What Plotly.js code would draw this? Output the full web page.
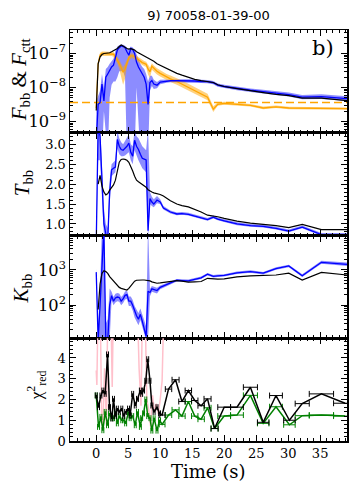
<!DOCTYPE html>
<html>
<head>
<meta charset="utf-8">
<script src="https://cdn.plot.ly/plotly-3.0.1.min.js"></script>
<style>
  html, body { margin: 0; padding: 0; background: #fff; }
  #plot { width: 358px; height: 495px; }
</style>
</head>
<body>
<div id="plot"></div>
<script>
// time grid of the spectral fits (s)
const fitTime = [0.0, 0.3, 0.6, 0.9, 1.2, 1.5, 1.8, 2.1, 2.4, 2.7, 3.0, 3.3, 3.6, 3.9, 4.2, 4.5, 4.8, 5.1, 5.4, 5.7,
  6.0, 6.3, 6.6, 6.9, 7.2, 7.5, 7.8, 8.1, 8.4, 8.7, 9.0, 9.5, 10.0, 10.5, 11.0, 11.6, 12.6, 13.4, 14.4, 15.4,
  16.4, 17.4, 18.3, 19.0, 20.0, 22.0, 24.1, 26.1, 28.1, 30.1, 32.2, 35.2, 39.2];

// panel 1: fluxes
const fluxTotal = [2.1e-9, 5e-8, 8e-8, 9.3e-8, 1e-7, 1e-7, 1.05e-7, 1.05e-7, 1.12e-7, 1.2e-7, 1.26e-7, 1.4e-7, 1.6e-7, 1.78e-7, 1.65e-7, 1.5e-7, 1.4e-7, 1.35e-7, 1.38e-7, 1.32e-7,
  1.26e-7, 1.12e-7, 1.05e-7, 9.5e-8, 8.9e-8, 8.5e-8, 7.9e-8, 7.4e-8, 6.9e-8, 6.5e-8, 5.9e-8, 5.0e-8, 4.5e-8, 4.0e-8, 3.5e-8, 3.2e-8, 2.6e-8, 2.3e-8, 2.0e-8, 1.74e-8,
  1.6e-8, 1.5e-8, 1.4e-8, 1.2e-8, 1.07e-8, 9.3e-9, 7.9e-9, 7.1e-9, 6.3e-9, 5.75e-9, 4.9e-9, 4.9e-9, 4.1e-9];
const fluxBB = [2.5e-10, 3.2e-9, 3.6e-9, 1.26e-8, 4e-9, 2e-8, 2.5e-8, 3.2e-8, 4e-8, 4.5e-8, 8e-8, 1.26e-7, 1.48e-7, 1.66e-7, 1.6e-7, 1.48e-7, 1.12e-7, 8.9e-8, 1.4e-7, 1.32e-7,
  1e-7, 5.6e-8, 4e-8, 3.2e-8, 2.5e-8, 2e-8, 1.26e-8, 3.2e-9, 1.4e-8, 1.6e-8, 1.26e-8, 1.17e-8, 1.45e-8, 1.5e-8, 1.55e-8, 1.58e-8, 1.58e-8, 1.58e-8, 1.58e-8, 1.55e-8,
  1.5e-8, 1.48e-8, 1.38e-8, 1.17e-8, 1.07e-8, 9.3e-9, 8.3e-9, 7.6e-9, 6.8e-9, 6.2e-9, 5.2e-9, 5.4e-9, 4.7e-9];
const fluxBBLo = [1e-10, 1e-10, 1e-10, 1e-10, 2e-9, 1e-10, 1e-10, 5e-9, 1.2e-8, 1.5e-8, 1.5e-8, 2e-8, 3e-8, 3e-8, 3e-8, 2e-8, 1e-10, 1e-10, 1e-10, 1e-10,
  1e-10, 1e-8, 1e-10, 1e-10, 1e-10, 1e-10, 1e-10, 1e-10, 8e-9, 1.1e-8, 9e-9, 9.5e-9, 1.25e-8, 1.33e-8, 1.38e-8, 1.42e-8, 1.42e-8, 1.42e-8, 1.42e-8, 1.39e-8,
  1.35e-8, 1.33e-8, 1.24e-8, 1.05e-8, 9.6e-9, 8.3e-9, 7.4e-9, 6.7e-9, 6.0e-9, 5.4e-9, 4.5e-9, 4.6e-9, 4.0e-9];
const fluxBBHi = [4e-9, 6e-9, 8e-9, 2.5e-8, 1e-8, 3.5e-8, 4e-8, 5e-8, 6e-8, 7e-8, 1.2e-7, 1.6e-7, 1.75e-7, 1.85e-7, 1.8e-7, 1.7e-7, 1.5e-7, 1.3e-7, 1.6e-7, 1.5e-7,
  1.3e-7, 9e-8, 7e-8, 5e-8, 4e-8, 3.5e-8, 2.5e-8, 1.5e-8, 2.2e-8, 2.2e-8, 1.7e-8, 1.45e-8, 1.68e-8, 1.7e-8, 1.74e-8, 1.76e-8, 1.76e-8, 1.76e-8, 1.76e-8, 1.73e-8,
  1.67e-8, 1.65e-8, 1.54e-8, 1.31e-8, 1.2e-8, 1.04e-8, 9.3e-9, 8.6e-9, 7.7e-9, 7.1e-9, 6.0e-9, 6.3e-9, 5.5e-9];
const fluxCtt = [2.5e-9, 5e-8, 9e-8, 1e-7, 1e-7, 1e-7, 1e-7, 1e-7, 1e-7, 9.5e-8, 8e-8, 6.5e-8, 5e-8, 3.8e-8, 2.8e-8, 3.5e-8, 5.5e-8, 7.5e-8, 8.5e-8, 8.5e-8,
  8e-8, 7.2e-8, 6.5e-8, 5.8e-8, 5.4e-8, 5.1e-8, 4.8e-8, 3.5e-8, 2.9e-8, 4.2e-8, 3.6e-8, 3.0e-8, 2.6e-8, 2.3e-8, 2.0e-8, 1.8e-8, 1.5e-8, 1.25e-8, 1.0e-8, 8e-9,
  6.5e-9, 5.2e-9, 2.3e-9, 3.2e-9, 3.4e-9, 3.2e-9, 3.0e-9, 2.5e-9, 2.7e-9, 2.5e-9, 2.5e-9, 2.5e-9, 2.4e-9];
const fluxCttLo = [2e-9, 4e-8, 7.5e-8, 8.5e-8, 8.5e-8, 8.5e-8, 8.5e-8, 8.5e-8, 8.5e-8, 8e-8, 6.5e-8, 5e-8, 3.5e-8, 2.2e-8, 1.2e-8, 1.8e-8, 4e-8, 6e-8, 7e-8, 7.2e-8,
  6.8e-8, 6.1e-8, 5.5e-8, 4.9e-8, 4.6e-8, 4.3e-8, 4e-8, 2.4e-8, 1.9e-8, 3.3e-8, 2.9e-8, 2.4e-8, 2.1e-8, 1.85e-8, 1.6e-8, 1.45e-8, 1.2e-8, 1.0e-8, 8e-9, 6.4e-9,
  5.2e-9, 4.2e-9, 1.9e-9, 2.9e-9, 3.1e-9, 2.95e-9, 2.75e-9, 2.3e-9, 2.5e-9, 2.3e-9, 2.3e-9, 2.3e-9, 2.2e-9];
const fluxCttHi = [3e-9, 6e-8, 1.05e-7, 1.15e-7, 1.15e-7, 1.15e-7, 1.15e-7, 1.15e-7, 1.15e-7, 1.1e-7, 9.5e-8, 8e-8, 6.5e-8, 5e-8, 4e-8, 5e-8, 7e-8, 9e-8, 1e-7, 1e-7,
  9.4e-8, 8.5e-8, 7.7e-8, 6.9e-8, 6.4e-8, 6e-8, 5.7e-8, 4.6e-8, 3.9e-8, 5.2e-8, 4.4e-8, 3.7e-8, 3.2e-8, 2.85e-8, 2.5e-8, 2.25e-8, 1.9e-8, 1.6e-8, 1.28e-8, 1.02e-8,
  8.2e-9, 6.6e-9, 2.8e-9, 3.6e-9, 3.8e-9, 3.5e-9, 3.3e-9, 2.75e-9, 2.95e-9, 2.7e-9, 2.7e-9, 2.7e-9, 2.6e-9];
const cttBaseline = 3.6e-9;

// panel 2: blackbody temperature
const tempRef = [null, 2.0, 2.22, 1.95, 1.8, 1.73, 1.76, 1.85, 1.92, 1.98, 2.1, 2.3, 2.55, 2.62, 2.63, 2.62, 2.6, 2.55, 2.45, 2.33,
  2.2, 2.1, 2.06, 2.03, 2.0, 1.97, 1.92, 1.86, 1.82, 1.8, 1.78, 1.76, 1.74, 1.7, 1.64, 1.58, 1.5, 1.46, 1.43, 1.37,
  1.3, 1.22, 1.2, 1.18, 1.14, 1.07, 1.02, 0.99, 0.96, 0.91, 0.99, 0.86, 0.86];
const tempBB = [0.5, 3.5, 3.2, 2.0, 1.0, 0.75, 0.6, 1.8, 2.36, 2.4, 2.43, 3.12, 2.95, 2.87, 2.85, 2.9, 2.95, 3.03, 2.8, 2.7,
  3.1, 2.95, 2.87, 2.75, 2.65, 2.63, 2.61, 0.83, 1.64, 1.55, 1.5, 1.6, 1.55, 1.4, 1.35, 1.3, 1.25, 1.26, 1.24, 1.2,
  1.16, 1.11, 1.17, 1.12, 1.08, 1.0, 0.96, 0.94, 0.89, 0.82, 0.92, 0.73, 0.73];
const tempBBLo = [0.4, 2.6, 2.6, 1.6, 0.7, 0.5, 0.4, 1.5, 2.2, 2.25, 2.3, 2.9, 2.75, 2.7, 2.7, 2.72, 2.75, 2.8, 2.6, 2.5,
  2.85, 2.7, 2.6, 2.5, 2.4, 2.35, 2.3, 0.6, 1.5, 1.45, 1.42, 1.52, 1.5, 1.36, 1.31, 1.26, 1.22, 1.23, 1.21, 1.17,
  1.13, 1.08, 1.14, 1.09, 1.05, 0.97, 0.93, 0.91, 0.86, 0.79, 0.89, 0.7, 0.7];
const tempBBHi = [0.6, 3.5, 3.5, 2.6, 1.4, 1.0, 0.9, 2.1, 2.5, 2.55, 2.6, 3.35, 3.15, 3.05, 3.0, 3.08, 3.15, 3.25, 3.0, 2.95,
  3.35, 3.2, 3.15, 3.05, 2.95, 2.9, 2.85, 3.4, 1.8, 1.68, 1.62, 1.7, 1.62, 1.45, 1.4, 1.34, 1.29, 1.3, 1.28, 1.24,
  1.2, 1.15, 1.21, 1.16, 1.12, 1.04, 1.0, 0.98, 0.93, 0.86, 0.96, 0.77, 0.77];

// panel 3: blackbody normalisation
const normRef = [null, 75, 400, 800, 950, 900, 800, 650, 560, 500, 420, 360, 320, 300, 290, 280, 270, 300, 350, 420,
  480, 510, 520, 520, 520, 520, 515, 510, 490, 460, 440, 420, 430, 440, 450, 470, 500, 480, 450, 460,
  470, 580, 560, 550, 560, 640, 680, 700, 720, 810, 520, 850, 720];
const normBB = [870, 10, 100, 2000, 15000, 10, 10, 100, 186, 130, 160, 170, 165, 130, 150, 190, 200, 130, 130, 100,
  65, 50, 40, 55, 35, 20, 13, 250, 230, 290, 280, 260, 320, 350, 380, 420, 510, 500, 490, 540,
  600, 760, 660, 680, 700, 830, 900, 810, 1100, 1300, 690, 1650, 1450];
const normBBLo = [600, 10, 10, 10, 10, 10, 10, 10, 140, 100, 120, 130, 125, 100, 115, 145, 150, 95, 95, 70,
  45, 35, 27, 38, 23, 13, 10, 10, 180, 240, 230, 215, 285, 315, 345, 385, 470, 460, 450, 500,
  555, 700, 610, 630, 650, 770, 830, 750, 1010, 1190, 630, 1500, 1300];
const normBBHi = [1100, 30, 300, 20000, 20000, 30, 40, 300, 240, 170, 210, 220, 215, 170, 195, 245, 260, 175, 175, 140,
  95, 75, 60, 80, 55, 35, 25, 20000, 290, 350, 340, 315, 360, 390, 420, 460, 555, 545, 535, 590,
  650, 825, 715, 740, 760, 900, 980, 880, 1200, 1420, 760, 1820, 1620];

// panel 4: reduced chi^2
const chiTime = [0.0, 0.36, 0.73, 1.04, 1.4, 1.77, 2.08, 2.45, 2.7, 3.0, 3.3, 3.6, 4.0, 4.3, 4.6, 5.05, 5.3, 5.7, 6.1, 6.45,
  6.9, 7.1, 7.4, 7.75, 8.05, 8.4, 8.7, 9.05, 9.5, 9.9, 10.3, 11.3, 12.4, 13.4, 14.4, 15.4, 16.4, 17.4, 18.5, 20.0,
  22.0, 24.1, 26.1, 28.1, 30.2, 32.2, 35.2, 38.9];
const chiTimeErr = [0.15, 0.15, 0.15, 0.15, 0.15, 0.15, 0.15, 0.15, 0.15, 0.15, 0.15, 0.15, 0.15, 0.15, 0.15, 0.15, 0.15, 0.15, 0.15, 0.15,
  0.15, 0.15, 0.15, 0.15, 0.15, 0.15, 0.15, 0.15, 0.15, 0.15, 0.45, 0.5, 0.55, 0.5, 0.5, 0.5, 0.5, 0.55, 0.55, 1.0,
  1.0, 1.1, 0.9, 1.0, 0.9, 1.1, 1.9, 1.8];
const chiRef = [2.2, 1.63, 2.19, 2.43, 2.27, 4.17, 1.63, 1.08, 2.03, 1.2, 1.56, 1.4, 1.56, 1.2, 1.4, 1.56, 1.24, 2.27, 1.71, 2.03,
  2.43, 2.27, 2.43, 2.9, 3.94, 2.9, 1.71, 1.4, 1.63, 1.33, 1.25, 2.5, 2.95, 1.9, 2.43, 1.95, 1.7, 2.03, 0.6, 1.63,
  1.63, 2.59, 0.9, 2.19, 1.0, 1.8, 2.27, 1.82];
const chiBB = [2.19, 0.68, 1.16, 0.52, 1.4, 0.76, 1.33, 1.1, 1.1, 1.4, 0.85, 1.2, 1.0, 1.0, 0.85, 1.4, 1.1, 1.2, 0.76, 1.4,
  0.68, 1.1, 1.33, 2.0, 1.2, 1.1, 0.5, 1.1, 0.5, 1.0, 0.8, 1.25, 1.5, 1.2, 1.9, 1.2, 1.05, 1.6, 0.6, 1.2,
  1.25, 2.2, 0.85, 1.65, 0.78, 1.22, 1.25, 1.2];
const pinkTime = [0.0, 0.1, 0.36, 0.6, 0.85, 1.04, 1.3, 1.6, 1.9, 2.2, 2.5, 2.8, 3.2, 6.3, 6.7, 7.0, 7.3, 7.6, 7.9, 8.2,
  8.5, 8.8, 9.1, 9.4, 9.7, 10.0, 10.3, 10.7, 11.0];
const chiPink = [3.4, 2.7, 8, 7, 1.1, 0.6, 3.5, 0.8, 9, 8, 2.6, 9, 8, 8, 3.5, 1.7, 8, 7, 2.0, 1.5,
  0.7, 2.2, 1.4, 1.8, 1.3, 2.0, 2.9, 8, 8];

const xRange = [-4.1, 39.2];
const SERIF = "DejaVu Serif";
const MATH = "Liberation Serif";

function band(x, lo, hi, xa, ya, color) {
  return [
    { x: x, y: lo, xaxis: xa, yaxis: ya, type: "scatter", mode: "lines", line: { width: 0 }, hoverinfo: "skip" },
    { x: x, y: hi, xaxis: xa, yaxis: ya, type: "scatter", mode: "lines", line: { width: 0 },
      fill: "tonexty", fillcolor: color, hoverinfo: "skip" },
  ];
}

function curve(x, y, xa, ya, color, width, extra) {
  return Object.assign({ x: x, y: y, xaxis: xa, yaxis: ya, type: "scatter", mode: "lines",
    line: { color: color, width: width } }, extra || {});
}

const blueBand = "rgba(0,0,255,0.45)";
const orangeBand = "rgba(255,165,0,0.5)";

const traces = [
  ...band(fitTime, fluxBBLo, fluxBBHi, "x", "y", blueBand),
  ...band(fitTime, fluxCttLo, fluxCttHi, "x", "y", orangeBand),
  curve(xRange, [cttBaseline, cttBaseline], "x", "y", "#ffa500", 1.5, { line: { color: "#ffa500", width: 1.5, dash: "8px,4px" } }),
  curve(fitTime, fluxCtt, "x", "y", "#ffa500", 1.3),
  curve(fitTime, fluxBB, "x", "y", "#0000ff", 1.3),
  curve(fitTime, fluxTotal, "x", "y", "black", 1.2),

  ...band(fitTime, tempBBLo, tempBBHi, "x2", "y2", blueBand),
  curve(fitTime, tempBB, "x2", "y2", "#0000ff", 1.3),
  curve(fitTime, tempRef, "x2", "y2", "black", 1.2),

  ...band(fitTime, normBBLo, normBBHi, "x3", "y3", blueBand),
  curve(fitTime, normBB, "x3", "y3", "#0000ff", 1.3),
  curve(fitTime, normRef, "x3", "y3", "black", 1.2),

  curve(pinkTime, chiPink, "x4", "y4", "#ffc0cb", 1.5),
  curve(chiTime, chiBB, "x4", "y4", "green", 1.5, {
    error_x: { type: "data", array: chiTimeErr, color: "green", thickness: 1, width: 3 } }),
  curve(chiTime, chiRef, "x4", "y4", "black", 1.5, {
    error_x: { type: "data", array: chiTimeErr, color: "black", thickness: 1, width: 3 } }),
];

const xBase = {
  range: xRange, showline: true, linewidth: 1.5, linecolor: "black", mirror: "ticks",
  ticks: "inside", ticklen: 6, tickwidth: 1, tickcolor: "black", tick0: 0, dtick: 5,
  minor: { ticks: "inside", ticklen: 3, dtick: 1, tickcolor: "black" },
  showgrid: false, zeroline: false, showticklabels: false,
};
function yBase(extra) {
  return Object.assign({
    showline: true, linewidth: 1.5, linecolor: "black", mirror: "ticks",
    ticks: "inside", ticklen: 6, tickwidth: 1, tickcolor: "black",
    showgrid: false, zeroline: false, tickfont: { family: SERIF, size: 13, color: "black" },
  }, extra);
}

function sideTitle(text, x, y, size) {
  return { text: text, xref: "paper", yref: "paper", x: x, y: y, xanchor: "center", yanchor: "middle",
    textangle: -90, showarrow: false, font: { family: MATH, size: size, color: "black" } };
}

const layout = {
  width: 358, height: 495,
  margin: { l: 70, r: 11, t: 30, b: 54 },
  paper_bgcolor: "white", plot_bgcolor: "white",
  showlegend: false,
  font: { family: SERIF, size: 13, color: "black" },
  title: { text: "9) 70058-01-39-00", font: { family: "DejaVu Sans", size: 13, color: "black" },
    xref: "paper", x: 0.5, xanchor: "center", y: 0.968, yanchor: "middle" },
  xaxis: Object.assign({}, xBase, { anchor: "y" }),
  xaxis2: Object.assign({}, xBase, { anchor: "y2", matches: "x" }),
  xaxis3: Object.assign({}, xBase, { anchor: "y3", matches: "x" }),
  xaxis4: Object.assign({}, xBase, { anchor: "y4", matches: "x", showticklabels: true,
    tickfont: { family: SERIF, size: 13, color: "black" } }),
  yaxis: yBase({ domain: [0.75, 1], type: "log", range: [-9.33, -6.31], dtick: 1, exponentformat: "power",
    minor: { ticks: "inside", ticklen: 3, dtick: "D1", tickcolor: "black" } }),
  yaxis2: yBase({ domain: [0.5, 0.75], range: [0.71, 3.29], tick0: 0, dtick: 0.5, tickformat: ".1f",
    minor: { ticks: "inside", ticklen: 3, dtick: 0.1, tickcolor: "black" } }),
  yaxis3: yBase({ domain: [0.25, 0.5], type: "log", range: [1.06, 3.98], dtick: 1, exponentformat: "power",
    minor: { ticks: "inside", ticklen: 3, dtick: "D1", tickcolor: "black" } }),
  yaxis4: yBase({ domain: [0, 0.25], range: [0, 4.95], tick0: 0, dtick: 1,
    minor: { ticks: "inside", ticklen: 3, dtick: 0.2, tickcolor: "black" } }),
  annotations: [
    sideTitle("<i>F</i><sub>bb</sub> & <i>F</i><sub>ctt</sub>", -0.18, 0.878, 21),
    sideTitle("<i>T</i><sub>bb</sub>", -0.17, 0.627, 21),
    sideTitle("<i>K</i><sub>bb</sub>", -0.175, 0.37, 21),
    sideTitle("χ<sup>2</sup><sub>red</sub>", -0.12, 0.135, 17),
    { text: "b)", xref: "paper", yref: "paper", x: 0.915, y: 0.955, xanchor: "center", yanchor: "middle",
      showarrow: false, font: { family: SERIF, size: 21, color: "black" } },
    { text: "Time (s)", xref: "paper", yref: "paper", x: 0.5, y: -0.075, xanchor: "center", yanchor: "middle",
      showarrow: false, font: { family: SERIF, size: 18, color: "black" } },
  ],
};

Plotly.newPlot("plot", traces, layout, { staticPlot: true });
</script>
</body>
</html>
